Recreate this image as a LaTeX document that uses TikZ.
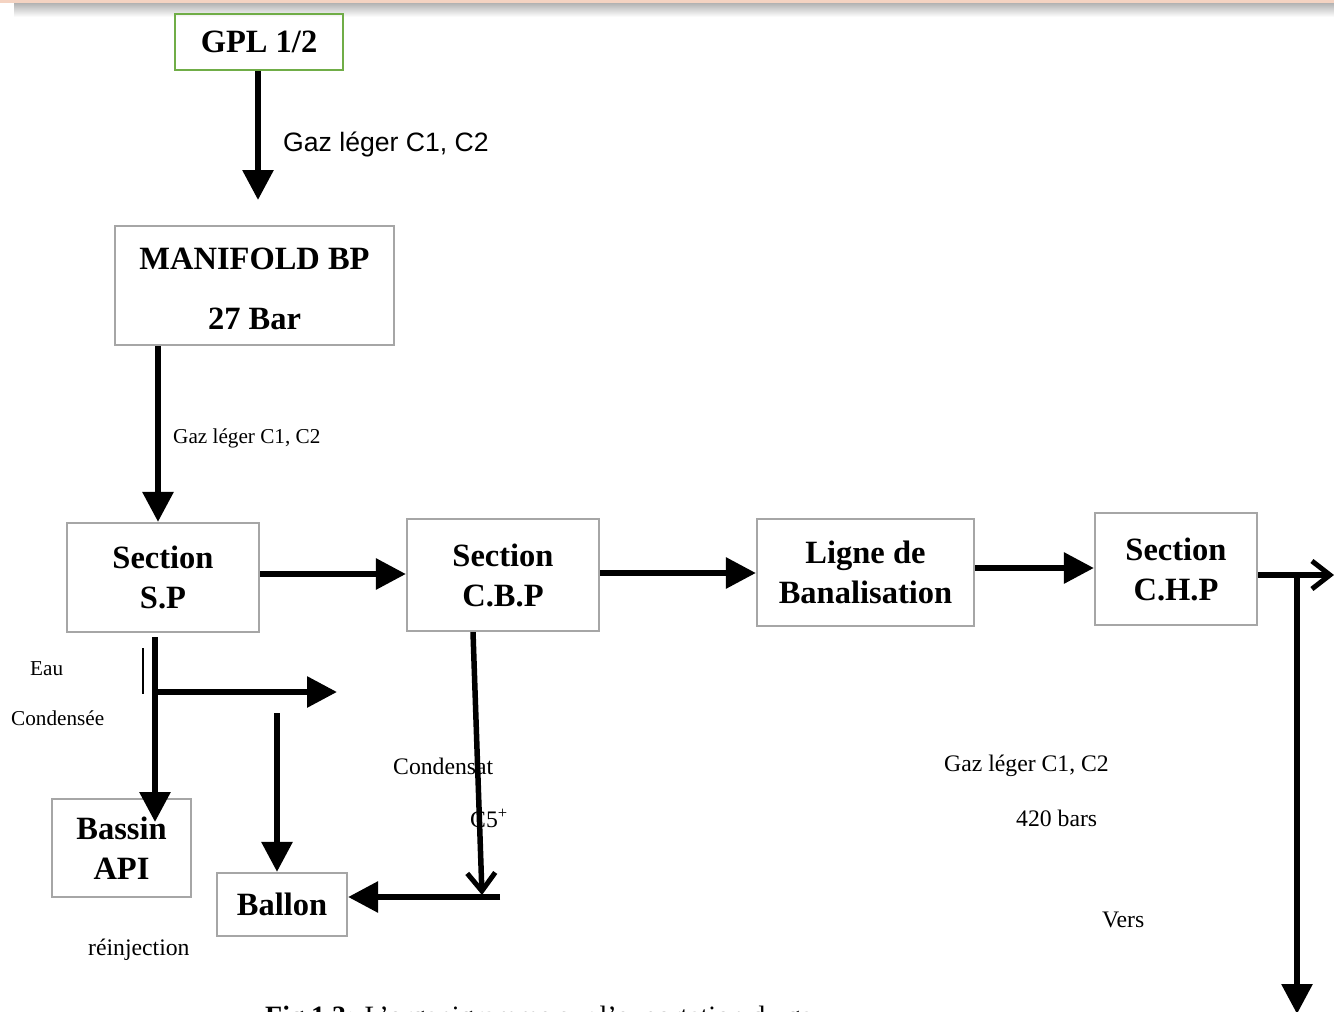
\documentclass[tikz,border=0pt]{standalone}
\usepackage{fontspec}
\setmainfont{Liberation Serif}
\newfontfamily\arialf{Liberation Sans}
\usetikzlibrary{arrows.meta}
\definecolor{boxgray}{HTML}{A6A6A6}
\definecolor{gplgreen}{HTML}{70AD47}
\definecolor{bandorange}{HTML}{F4D3C2}
\tikzset{
  box/.style={draw=boxgray, line width=2.2pt, inner sep=0pt, align=center,
    font=\fontsize{32.5}{40}\selectfont\bfseries},
  arr/.style={line width=6pt, -{Triangle[width=30pt,length=30pt]}},
  arrv/.style={line width=5.5pt, -{Straight Barb[width=28pt,length=18pt,line width=5pt]}},
  lbl/.style={anchor=west, inner sep=0pt, font=\fontsize{23.7}{26}\selectfont},
  lbls/.style={anchor=west, inner sep=0pt, font=\fontsize{21.2}{24}\selectfont},
}
\begin{document}
\begin{tikzpicture}[x=1pt, y=-1pt]
\useasboundingbox (0,0) rectangle (1334,1012);
\clip (0,0) rectangle (1334,1012);
\fill[white] (0,0) rectangle (1334,1012);
% top band
\shade[top color=black!30, bottom color=white] (14,3) rectangle (1334,17);
\fill[bandorange] (0,0) rectangle (1334,2.5);

% boxes
\node[box, draw=gplgreen, line width=2.8pt, minimum width=168pt, minimum height=56pt] (gpl) at (259,42) {GPL 1/2};
\node[box, minimum width=279pt, minimum height=119pt, font=\fontsize{32.5}{60}\selectfont\bfseries] (man) at (254.5,285.5) {\rule{0pt}{28pt}MANIFOLD BP\\27 Bar};
\node[box, minimum width=192pt, minimum height=109pt] (sp) at (163,577.5) {Section\\S.P};
\node[box, minimum width=192pt, minimum height=112pt] (cbp) at (503,575) {Section\\C.B.P};
\node[box, minimum width=217pt, minimum height=107pt] (lig) at (865.5,572.5) {Ligne de\\Banalisation};
\node[box, minimum width=162pt, minimum height=112pt] (chp) at (1176,569) {Section\\C.H.P};
\node[box, minimum width=139pt, minimum height=98pt] (bas) at (121.5,848) {Bassin\\API};
\node[box, minimum width=130pt, minimum height=63pt] (bal) at (282,904.5) {Ballon};

% free ends
\coordinate (gplend) at (258,200);
\coordinate (outr) at (1334,575);
\coordinate (branch) at (1297,575);
\coordinate (downend) at (1297,1014);
\coordinate (spdown) at (155,822);
\coordinate (spsplit) at (155,692);
\coordinate (eauend) at (337,692);
\coordinate (tickt) at (143,648);
\coordinate (tickb) at (143,694);
\coordinate (balltop) at (277,713);
\coordinate (cbpend) at (482,895);
\coordinate (cbpright) at (500,897);

% connectors
\draw[arr] ([xshift=-1pt]gpl.south) -- (gplend);
\draw[arr] ([xshift=-96.5pt]man.south) -- ([xshift=-96.5pt]man.south |- sp.north);
\draw[arr] ([yshift=3.5pt]sp.east) -- ([yshift=3.5pt]sp.east -| cbp.west);
\draw[arr] ([yshift=2pt]cbp.east) -- ([yshift=2pt]cbp.east -| lig.west);
\draw[arr] ([yshift=4.5pt]lig.east) -- ([yshift=4.5pt]lig.east -| chp.west);
\draw[arrv] ([yshift=-6pt]chp.east) -- (outr);
\draw[arr] (branch) -- (downend);
\draw[arr] ([xshift=-8pt,yshift=-4pt]sp.south) -- (spdown);
\draw[line width=1.5pt] (tickt) -- (tickb);
\draw[arr] (spsplit) -- (eauend);
\draw[arr] (balltop) -- (balltop |- bal.north);
\draw[arrv] ([xshift=-30pt]cbp.south) -- (cbpend);
\draw[arr] (cbpright) -- (cbpright -| bal.east);

% labels
\node[anchor=west, inner sep=0pt, font=\arialf\fontsize{26.6}{28}\selectfont] (l1) at (283,144) {Gaz léger C1, C2};
\node[lbls] (l2) at (173,438) {Gaz léger C1, C2};
\node[lbls] (l3) at (30,669) {Eau};
\node[lbls] (l4) at (11,718) {Condensée};
\node[lbl] (l5) at (393,766) {Condensat};
\node[lbl] (l6) at (470,818) {C5\textsuperscript{+}};
\node[lbl] (l7) at (944,766) {Gaz léger C1, C2};
\node[lbl] (l8) at (1016,818) {420 bars};
\node[lbl] (l9) at (1102,920) {Vers};
\node[lbl] (l10) at (88,950) {réinjection};

% caption (cut off by the page edge, as in the reference)
\node[anchor=base west, inner sep=0pt, font=\fontsize{28}{30}\selectfont] (cap) at (265,1025) {\textbf{Fig 1.3:} L’organigramme sur l’exportation du gaz};
\end{tikzpicture}
\end{document}
